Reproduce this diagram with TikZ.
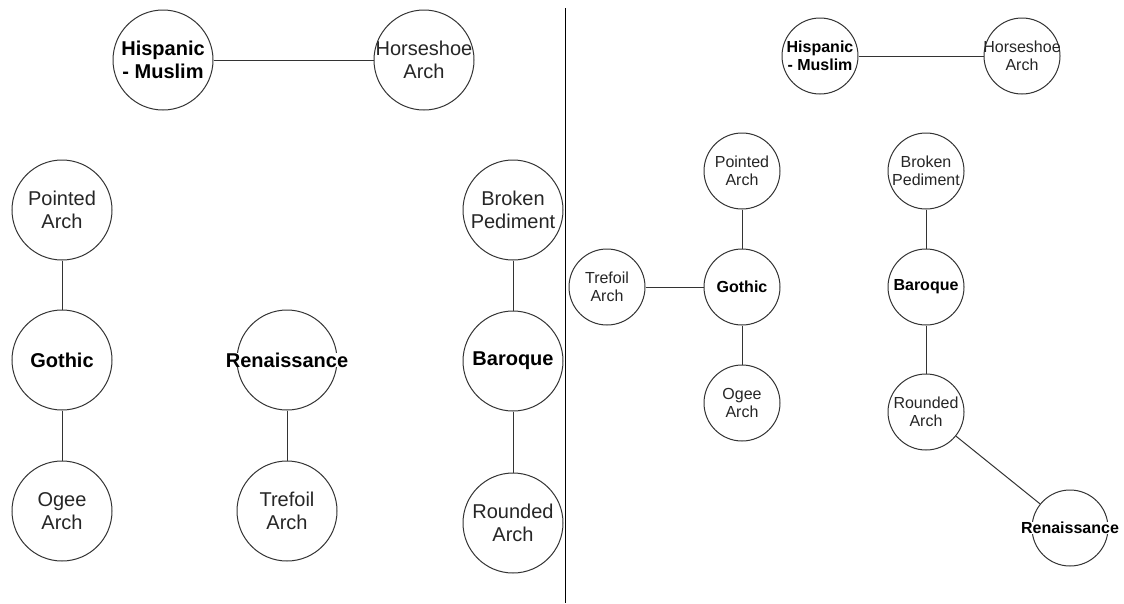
\documentclass[tikz,border=0pt]{standalone}
\usepackage{fontspec}
\setmainfont{Liberation Sans}
\usetikzlibrary{calc}

\begin{document}
\begin{tikzpicture}[x=1pt,y=-1pt]
	\path [use as bounding box] (0,0) rectangle (1124,603);
	\tikzstyle{every node} = [circle, draw=black!80, line width=1pt, inner sep=0pt, fill=white]
	\tikzstyle{big} = [minimum size=100pt]
	\tikzstyle{small} = [minimum size=76pt]
	\tikzstyle{bigtxt} = [draw=none, fill=none, rectangle, inner sep=0pt, align=center, text=black!85, font=\fontsize{20}{23}\selectfont]
	\tikzstyle{bigbold} = [bigtxt, text=black, font=\fontsize{20}{23}\selectfont\bfseries]
	\tikzstyle{smalltxt} = [bigtxt, font=\fontsize{16}{18.4}\selectfont]
	\tikzstyle{smallbold} = [smalltxt, text=black, font=\fontsize{16}{18.4}\selectfont\bfseries]
	\tikzstyle{link} = [line width=1pt, black!80]
	% left half
	\node[big, label={[bigbold]center:Hispanic\\- Muslim}] (hisp) at (163,60) {};
	\node[big, label={[bigtxt]center:Horseshoe\\Arch}] (horse) at (424,60) {};
	\node[big, label={[bigtxt]center:Pointed\\Arch}] (pointed) at (62,210) {};
	\node[big, label={[bigbold]center:Gothic}] (gothic) at (62,360) {};
	\node[big, label={[bigtxt]center:Ogee\\Arch}] (ogee) at (62,511) {};
	\node[big, label={[bigbold, fill=white]center:Renaissance}] (ren) at (287,360) {};
	\node[big, label={[bigtxt]center:Trefoil\\Arch}] (trefoil) at (287,511) {};
	\node[big, label={[bigtxt]center:Broken\\Pediment}] (broken) at (513,210) {};
	\node[big, label={[bigbold]center:Baroque}] (baroque) at (513,361) {};
	\node[big, label={[bigtxt]center:Rounded\\Arch}] (rounded) at (513,523) {};
	\draw[link] (hisp) -- (horse);
	\draw[link] (pointed) -- (gothic);
	\draw[link] (gothic) -- (ogee);
	\draw[link] (ren) -- (trefoil);
	\draw[link] (broken) -- (baroque);
	\draw[link] (baroque) -- (rounded);
	% divider
	\coordinate (divtop) at (565,8);
	\coordinate (divbot) at (565,603);
	\draw[line width=1pt, black] (divtop) -- (divbot);
	% right half
	\node[small, label={[smallbold]center:Hispanic\\- Muslim}] (hisp2) at (820,56) {};
	\node[small, label={[smalltxt]center:Horseshoe\\Arch}] (horse2) at (1022,56) {};
	\node[small, label={[smalltxt]center:Pointed\\Arch}] (pointed2) at (742,171) {};
	\node[small, label={[smallbold]center:Gothic}] (gothic2) at (742,287) {};
	\node[small, label={[smalltxt]center:Ogee\\Arch}] (ogee2) at (742,403) {};
	\node[small, label={[smalltxt]center:Trefoil\\Arch}] (trefoil2) at (607,287) {};
	\node[small, label={[smalltxt]center:Broken\\Pediment}] (broken2) at (926,171) {};
	\node[small, label={[smallbold]center:Baroque}] (baroque2) at (926,287) {};
	\node[small, label={[smalltxt]center:Rounded\\Arch}] (rounded2) at (926,412) {};
	\node[small, label={[smallbold, fill=white]center:Renaissance}] (ren2) at (1070,528) {};
	\draw[link] (hisp2) -- (horse2);
	\draw[link] (pointed2) -- (gothic2);
	\draw[link] (gothic2) -- (ogee2);
	\draw[link] (trefoil2) -- (gothic2);
	\draw[link] (broken2) -- (baroque2);
	\draw[link] (baroque2) -- (rounded2);
	\draw[link] (rounded2) -- (ren2);
\end{tikzpicture}
\end{document}
